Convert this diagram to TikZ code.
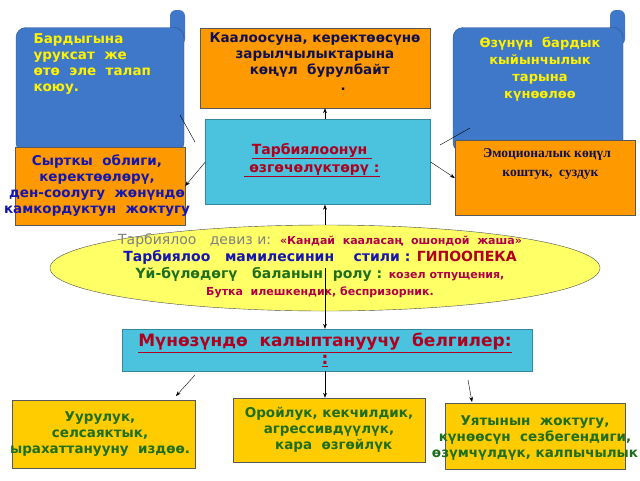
\documentclass[tikz,border=0pt]{standalone}
\usepackage{fontspec}
\setmainfont{DejaVu Sans}
\newfontfamily\serifx{Liberation Serif}
\usetikzlibrary{shapes.geometric,arrows.meta}
\definecolor{orng}{HTML}{FF9900}
\definecolor{gold}{HTML}{FFCC00}
\definecolor{cyanb}{HTML}{4BC3DE}
\definecolor{scroll}{HTML}{3F78C8}
\definecolor{navy}{HTML}{101050}
\definecolor{dred}{HTML}{B00020}
\definecolor{grn}{HTML}{1E6E1E}
\definecolor{blu}{HTML}{1515B0}
\definecolor{mag}{HTML}{B0004A}
\definecolor{yel}{HTML}{FFFF66}
\tikzset{
 obox/.style={draw=gray!70!black,fill=orng,minimum width=#1},
 gbox/.style={draw=gray!70!black,fill=gold,align=center,text=grn,font=\bfseries\fontsize{13.5}{16}\selectfont},
 gtxt/.style={align=center,text=grn,font=\bfseries\fontsize{13.5}{16}\selectfont},
 cbox/.style={draw=cyanb!70!black,fill=cyanb,align=center},
 scr/.style={fill=scroll,draw=scroll!70!black,rounded corners=10pt},
 arr/.style={-{Stealth[length=5pt]},thin},
 ln/.style={thin}
}
\begin{document}
\begin{tikzpicture}[x=1pt,y=-1pt]
\useasboundingbox (0,0) rectangle (640,480);
% scrolls
\fill[scroll, rounded corners=6pt] (170,10) rectangle (185,45);
\node[scr,minimum width=168pt,minimum height=125pt] (ls) at (100,90) {};
\fill[scroll, rounded corners=6pt] (610,10) rectangle (625,45);
\node[scr,minimum width=170pt,minimum height=125pt] (rs) at (538,90) {};
\node[anchor=north west,align=left,text=yellow,font=\bfseries\fontsize{13.5}{16}\selectfont] (lst) at (30,30) {Бардыгына\\уруксат\ \ же\\өтө\ \ эле\ \ талап\\коюу.};
\node[anchor=north,align=center,text=yellow,font=\bfseries\fontsize{13}{17}\selectfont] (rst) at (540,34) {Өзүнүн\ \ бардык\\кыйынчылык\\тарына\\күнөөлөө};
% top box
\node[obox=230pt,minimum height=80pt] (top) at (315,68) {};
\node[text=navy,align=center,font=\bfseries\fontsize{13.5}{16}\selectfont] (topt) at (315,62) {Каалоосуна, керектөөсүнө\\зарылчылыктарына\\ \ \ көңүл\ \ бурулбайт\\ \ \ \ \ \ \ \ \ \ \ \ \ .};
% center
\node[cbox,minimum width=225pt,minimum height=85pt] (cen) at (318,162) {};
\node[text=dred,align=center,font=\bfseries\fontsize{14}{18}\selectfont] (cent) at (312,160) {\underline{Тарбиялоонун\ }\\\underline{\ өзгөчөлүктөрү :}};
% left / right
\node[obox=170pt,minimum height=78pt] (lb) at (100,186) {};
\node[text=blu,align=center,font=\bfseries\fontsize{13.5}{16}\selectfont] (lbt) at (97,186) {Сырткы\ \ облиги,\\керектөөлөрү,\\ден-соолугу\ \ жөнүндө\\камкордуктун\ \ жоктугу};
\node[obox=180pt,minimum height=75pt] (rb) at (545,178) {};
\node[text=navy,align=center,font=\serifx\bfseries\fontsize{13.5}{19}\selectfont] (rbt) at (547,164) {Эмоционалык көңүл\\\ \ коштук,\ \ суздук};
% connector lines from scrolls
\draw[ln] (180,115) -- (195,142);
\draw[ln] (470,128) -- (440,145);
% ellipse
\node[ellipse,draw=black!70,fill=yel,minimum width=550pt,minimum height=86pt] (el) at (325,268) {};
\draw[arr] (el.north) -- (el.north |- cen.south);
\draw[arr] (el.north |- cen.north) -- (el.north |- top.south);
\draw[arr] (cen.west) -- (lb.east);
\draw[arr] (cen.east) -- (rb.west);
\node[align=center,font=\fontsize{14}{16}\selectfont] (elt) at (320,266) {%
{\color{gray}Тарбиялоо\ \ \ девиз и:}\ \ {\color{mag}\bfseries\fontsize{11}{13}\selectfont «Кандай\ \ кааласаң\ \ ошондой\ \ жаша»}\\[1pt]
{\bfseries\fontsize{14}{16}\selectfont\color{blu}Тарбиялоо\ \ \ мамилесинин\ \ \ \ стили : \color{dred}ГИПООПЕКА}\\[1pt]
{\bfseries\fontsize{14}{16}\selectfont\color{grn}Үй-бүлөдөгү\ \ \ баланын\ \ ролу : \color{mag}\fontsize{11}{13}\selectfont козел отпущения,}\\[1pt]
{\bfseries\fontsize{11}{13}\selectfont\color{mag}Бутка\ \ илешкендик, беспризорник.}};
% bottom cyan
\node[cbox,minimum width=410pt,minimum height=42pt] (bc) at (327,350) {};
\node[text=dred,align=center,font=\bfseries\fontsize{17}{18}\selectfont] (bct) at (325,350) {\underline{Мүнөзүндө\ \ калыптануучу\ \ белгилер:}\\\underline{:}};
\draw[arr] (el.south |- el.center) -- (el.south |- bc.north);
% bottom boxes
\node[gbox,minimum width=183pt,minimum height=68pt] (b1) at (104,434) {};
\node[gtxt] (b1t) at (100,434) {Уурулук,\\селсаяктык,\\ырахаттанууну\ \ издөө.};
\node[gbox,minimum width=192pt,minimum height=64pt] (b2) at (329,430) {Оройлук, кекчилдик,\\агрессивдүүлүк,\\\ \ кара\ \ өзгөйлүк};
\node[gbox,minimum width=180pt,minimum height=66pt] (b3) at (535,436) {};
\node[gtxt] (b3t) at (535,438) {Уятынын\ \ жоктугу,\\күнөөсүн\ \ сезбегендиги,\\өзүмчүлдүк, калпычылык};
\coordinate (a1) at (195,375);
\coordinate (a3) at (468,380);
\draw[arr] (a1) -- (176,396);
\draw[arr] (el.south |- bc.south) -- (el.south |- b2.north);
\draw[arr] (a3) -- (472,402);
\end{tikzpicture}
\end{document}
